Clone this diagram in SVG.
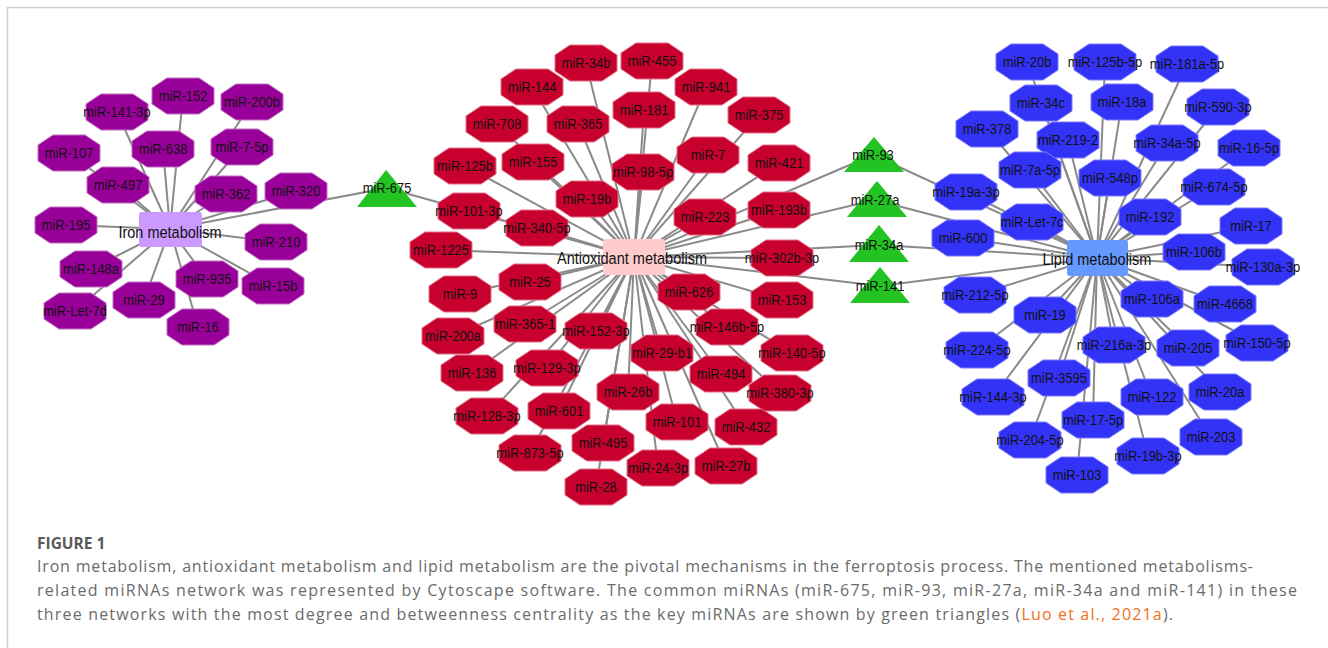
<svg xmlns="http://www.w3.org/2000/svg" xmlns:xlink="http://www.w3.org/1999/xlink" width="1328" height="648" viewBox="0 0 1328 648">
<style>
.frame{stroke:#cfcfcf;stroke-width:1.5;fill:none}
.edges line{stroke:#8a8a8a;stroke-width:2}
.iron{fill:#990099;stroke:#c070c0;stroke-width:1}
.anti{fill:#c8002d;stroke:#e07088;stroke-width:1}
.lipid{fill:#3333f8;stroke:#7a7aff;stroke-width:1}
.tri{fill:#22c322}
.lbl{font-family:"Liberation Sans",Arial,sans-serif;font-size:15px;fill:#111;stroke:none;text-anchor:middle;transform-box:fill-box;transform-origin:center;transform:scaleX(0.86)}
.hublbl{font-family:"Liberation Sans",Arial,sans-serif;font-size:16.5px;fill:#111;text-anchor:middle;transform-box:fill-box;transform-origin:center;transform:scaleX(0.88)}
.cap{font-family:"Open Sans","Liberation Sans",sans-serif;font-size:16px;fill:#6b6b6b}
.caph{font-family:"Open Sans","Liberation Sans",sans-serif;font-size:15.5px;font-weight:bold;fill:#5a5a5a}
.link{fill:#f07020}
</style>
<defs>
<path id="oct" d="M-16,-18 H16 L31,-8 V8 L16,18 H-16 L-31,8 V-8 Z"/>
</defs>
<rect width="1328" height="648" fill="#ffffff"/>
<path class="frame" d="M7.5,648 V7.5 H1328"/>

<g id="connectors" class="edges">
<line x1="170" y1="229" x2="117" y2="112"/>
<line x1="170" y1="229" x2="183" y2="96"/>
<line x1="170" y1="229" x2="252" y2="102"/>
<line x1="170" y1="229" x2="69" y2="153"/>
<line x1="170" y1="229" x2="163" y2="149"/>
<line x1="170" y1="229" x2="242" y2="147"/>
<line x1="170" y1="229" x2="118" y2="185"/>
<line x1="170" y1="229" x2="226" y2="194"/>
<line x1="170" y1="229" x2="296" y2="191"/>
<line x1="170" y1="229" x2="66" y2="225"/>
<line x1="170" y1="229" x2="276" y2="242"/>
<line x1="170" y1="229" x2="91" y2="269"/>
<line x1="170" y1="229" x2="207" y2="279"/>
<line x1="170" y1="229" x2="273" y2="286"/>
<line x1="170" y1="229" x2="144" y2="300"/>
<line x1="170" y1="229" x2="75" y2="311"/>
<line x1="170" y1="229" x2="198" y2="327"/>
<line x1="170" y1="229" x2="387" y2="188"/>
<line x1="387" y1="188" x2="634" y2="257"/>
<line x1="634" y1="257" x2="586" y2="63"/>
<line x1="634" y1="257" x2="652" y2="61"/>
<line x1="634" y1="257" x2="532" y2="87"/>
<line x1="634" y1="257" x2="706" y2="87"/>
<line x1="634" y1="257" x2="644" y2="110"/>
<line x1="634" y1="257" x2="497" y2="124"/>
<line x1="634" y1="257" x2="578" y2="124"/>
<line x1="634" y1="257" x2="759" y2="115"/>
<line x1="634" y1="257" x2="708" y2="155"/>
<line x1="634" y1="257" x2="533" y2="162"/>
<line x1="634" y1="257" x2="465" y2="166"/>
<line x1="634" y1="257" x2="643" y2="172"/>
<line x1="634" y1="257" x2="779" y2="163"/>
<line x1="634" y1="257" x2="587" y2="199"/>
<line x1="634" y1="257" x2="705" y2="217"/>
<line x1="634" y1="257" x2="779" y2="210"/>
<line x1="634" y1="257" x2="469" y2="211"/>
<line x1="634" y1="257" x2="537" y2="228"/>
<line x1="634" y1="257" x2="441" y2="250"/>
<line x1="634" y1="257" x2="782" y2="258"/>
<line x1="634" y1="257" x2="530" y2="282"/>
<line x1="634" y1="257" x2="460" y2="294"/>
<line x1="634" y1="257" x2="689" y2="292"/>
<line x1="634" y1="257" x2="782" y2="300"/>
<line x1="634" y1="257" x2="453" y2="336"/>
<line x1="634" y1="257" x2="525" y2="324"/>
<line x1="634" y1="257" x2="596" y2="331"/>
<line x1="634" y1="257" x2="727" y2="327"/>
<line x1="634" y1="257" x2="792" y2="353"/>
<line x1="634" y1="257" x2="662" y2="353"/>
<line x1="634" y1="257" x2="472" y2="373"/>
<line x1="634" y1="257" x2="547" y2="368"/>
<line x1="634" y1="257" x2="721" y2="374"/>
<line x1="634" y1="257" x2="628" y2="392"/>
<line x1="634" y1="257" x2="780" y2="393"/>
<line x1="634" y1="257" x2="487" y2="416"/>
<line x1="634" y1="257" x2="559" y2="411"/>
<line x1="634" y1="257" x2="677" y2="422"/>
<line x1="634" y1="257" x2="746" y2="427"/>
<line x1="634" y1="257" x2="603" y2="443"/>
<line x1="634" y1="257" x2="530" y2="453"/>
<line x1="634" y1="257" x2="658" y2="468"/>
<line x1="634" y1="257" x2="726" y2="466"/>
<line x1="634" y1="257" x2="596" y2="487"/>
<line x1="634" y1="257" x2="873" y2="155"/>
<line x1="634" y1="257" x2="875" y2="200"/>
<line x1="634" y1="257" x2="879" y2="245"/>
<line x1="634" y1="257" x2="880" y2="286"/>
<line x1="873" y1="155" x2="1097" y2="258"/>
<line x1="875" y1="200" x2="1097" y2="258"/>
<line x1="879" y1="245" x2="1097" y2="258"/>
<line x1="880" y1="286" x2="1097" y2="258"/>
<line x1="1097" y1="258" x2="1027" y2="62"/>
<line x1="1097" y1="258" x2="1105" y2="62"/>
<line x1="1097" y1="258" x2="1187" y2="64"/>
<line x1="1097" y1="258" x2="1041" y2="103"/>
<line x1="1097" y1="258" x2="1122" y2="102"/>
<line x1="1097" y1="258" x2="1218" y2="107"/>
<line x1="1097" y1="258" x2="987" y2="129"/>
<line x1="1097" y1="258" x2="1068" y2="140"/>
<line x1="1097" y1="258" x2="1167" y2="143"/>
<line x1="1097" y1="258" x2="1249" y2="148"/>
<line x1="1097" y1="258" x2="1030" y2="170"/>
<line x1="1097" y1="258" x2="1110" y2="178"/>
<line x1="1097" y1="258" x2="1214" y2="187"/>
<line x1="1097" y1="258" x2="966" y2="192"/>
<line x1="1097" y1="258" x2="1032" y2="222"/>
<line x1="1097" y1="258" x2="1150" y2="217"/>
<line x1="1097" y1="258" x2="1251" y2="226"/>
<line x1="1097" y1="258" x2="963" y2="238"/>
<line x1="1097" y1="258" x2="1194" y2="252"/>
<line x1="1097" y1="258" x2="1263" y2="267"/>
<line x1="1097" y1="258" x2="975" y2="295"/>
<line x1="1097" y1="258" x2="1152" y2="299"/>
<line x1="1097" y1="258" x2="1225" y2="304"/>
<line x1="1097" y1="258" x2="1045" y2="315"/>
<line x1="1097" y1="258" x2="977" y2="350"/>
<line x1="1097" y1="258" x2="1114" y2="345"/>
<line x1="1097" y1="258" x2="1188" y2="348"/>
<line x1="1097" y1="258" x2="1257" y2="343"/>
<line x1="1097" y1="258" x2="1059" y2="378"/>
<line x1="1097" y1="258" x2="993" y2="397"/>
<line x1="1097" y1="258" x2="1152" y2="397"/>
<line x1="1097" y1="258" x2="1220" y2="392"/>
<line x1="1097" y1="258" x2="1093" y2="420"/>
<line x1="1097" y1="258" x2="1211" y2="437"/>
<line x1="1097" y1="258" x2="1030" y2="440"/>
<line x1="1097" y1="258" x2="1148" y2="456"/>
<line x1="1097" y1="258" x2="1077" y2="475"/>
</g>

<g id="iron-miR-141-3p" class="iron"><use xlink:href="#oct" x="117" y="112"/><text class="lbl" x="117" y="117">miR-141-3p</text></g>
<g id="iron-miR-152" class="iron"><use xlink:href="#oct" x="183" y="96"/><text class="lbl" x="183" y="101">miR-152</text></g>
<g id="iron-miR-200b" class="iron"><use xlink:href="#oct" x="252" y="102"/><text class="lbl" x="252" y="107">miR-200b</text></g>
<g id="iron-miR-107" class="iron"><use xlink:href="#oct" x="69" y="153"/><text class="lbl" x="69" y="158">miR-107</text></g>
<g id="iron-miR-638" class="iron"><use xlink:href="#oct" x="163" y="149"/><text class="lbl" x="163" y="154">miR-638</text></g>
<g id="iron-miR-7-5p" class="iron"><use xlink:href="#oct" x="242" y="147"/><text class="lbl" x="242" y="152">miR-7-5p</text></g>
<g id="iron-miR-497" class="iron"><use xlink:href="#oct" x="118" y="185"/><text class="lbl" x="118" y="190">miR-497</text></g>
<g id="iron-miR-362" class="iron"><use xlink:href="#oct" x="226" y="194"/><text class="lbl" x="226" y="199">miR-362</text></g>
<g id="iron-miR-320" class="iron"><use xlink:href="#oct" x="296" y="191"/><text class="lbl" x="296" y="196">miR-320</text></g>
<g id="iron-miR-195" class="iron"><use xlink:href="#oct" x="66" y="225"/><text class="lbl" x="66" y="230">miR-195</text></g>
<g id="iron-miR-210" class="iron"><use xlink:href="#oct" x="276" y="242"/><text class="lbl" x="276" y="247">miR-210</text></g>
<g id="iron-miR-148a" class="iron"><use xlink:href="#oct" x="91" y="269"/><text class="lbl" x="91" y="274">miR-148a</text></g>
<g id="iron-miR-935" class="iron"><use xlink:href="#oct" x="207" y="279"/><text class="lbl" x="207" y="284">miR-935</text></g>
<g id="iron-miR-15b" class="iron"><use xlink:href="#oct" x="273" y="286"/><text class="lbl" x="273" y="291">miR-15b</text></g>
<g id="iron-miR-29" class="iron"><use xlink:href="#oct" x="144" y="300"/><text class="lbl" x="144" y="305">miR-29</text></g>
<g id="iron-miR-Let-7d" class="iron"><use xlink:href="#oct" x="75" y="311"/><text class="lbl" x="75" y="316">miR-Let-7d</text></g>
<g id="iron-miR-16" class="iron"><use xlink:href="#oct" x="198" y="327"/><text class="lbl" x="198" y="332">miR-16</text></g>

<g id="anti-miR-34b" class="anti"><use xlink:href="#oct" x="586" y="63"/><text class="lbl" x="586" y="68">miR-34b</text></g>
<g id="anti-miR-455" class="anti"><use xlink:href="#oct" x="652" y="61"/><text class="lbl" x="652" y="66">miR-455</text></g>
<g id="anti-miR-144" class="anti"><use xlink:href="#oct" x="532" y="87"/><text class="lbl" x="532" y="92">miR-144</text></g>
<g id="anti-miR-941" class="anti"><use xlink:href="#oct" x="706" y="87"/><text class="lbl" x="706" y="92">miR-941</text></g>
<g id="anti-miR-181" class="anti"><use xlink:href="#oct" x="644" y="110"/><text class="lbl" x="644" y="115">miR-181</text></g>
<g id="anti-miR-708" class="anti"><use xlink:href="#oct" x="497" y="124"/><text class="lbl" x="497" y="129">miR-708</text></g>
<g id="anti-miR-365" class="anti"><use xlink:href="#oct" x="578" y="124"/><text class="lbl" x="578" y="129">miR-365</text></g>
<g id="anti-miR-375" class="anti"><use xlink:href="#oct" x="759" y="115"/><text class="lbl" x="759" y="120">miR-375</text></g>
<g id="anti-miR-7" class="anti"><use xlink:href="#oct" x="708" y="155"/><text class="lbl" x="708" y="160">miR-7</text></g>
<g id="anti-miR-155" class="anti"><use xlink:href="#oct" x="533" y="162"/><text class="lbl" x="533" y="167">miR-155</text></g>
<g id="anti-miR-125b" class="anti"><use xlink:href="#oct" x="465" y="166"/><text class="lbl" x="465" y="171">miR-125b</text></g>
<g id="anti-miR-98-5p" class="anti"><use xlink:href="#oct" x="643" y="172"/><text class="lbl" x="643" y="177">miR-98-5p</text></g>
<g id="anti-miR-421" class="anti"><use xlink:href="#oct" x="779" y="163"/><text class="lbl" x="779" y="168">miR-421</text></g>
<g id="anti-miR-19b" class="anti"><use xlink:href="#oct" x="587" y="199"/><text class="lbl" x="587" y="204">miR-19b</text></g>
<g id="anti-miR-223" class="anti"><use xlink:href="#oct" x="705" y="217"/><text class="lbl" x="705" y="222">miR-223</text></g>
<g id="anti-miR-193b" class="anti"><use xlink:href="#oct" x="779" y="210"/><text class="lbl" x="779" y="215">miR-193b</text></g>
<g id="anti-miR-101-3p" class="anti"><use xlink:href="#oct" x="469" y="211"/><text class="lbl" x="469" y="216">miR-101-3p</text></g>
<g id="anti-miR-340-5p" class="anti"><use xlink:href="#oct" x="537" y="228"/><text class="lbl" x="537" y="233">miR-340-5p</text></g>
<g id="anti-miR-1225" class="anti"><use xlink:href="#oct" x="441" y="250"/><text class="lbl" x="441" y="255">miR-1225</text></g>
<g id="anti-miR-302b-3p" class="anti"><use xlink:href="#oct" x="782" y="258"/><text class="lbl" x="782" y="263">miR-302b-3p</text></g>
<g id="anti-miR-25" class="anti"><use xlink:href="#oct" x="530" y="282"/><text class="lbl" x="530" y="287">miR-25</text></g>
<g id="anti-miR-9" class="anti"><use xlink:href="#oct" x="460" y="294"/><text class="lbl" x="460" y="299">miR-9</text></g>
<g id="anti-miR-626" class="anti"><use xlink:href="#oct" x="689" y="292"/><text class="lbl" x="689" y="297">miR-626</text></g>
<g id="anti-miR-153" class="anti"><use xlink:href="#oct" x="782" y="300"/><text class="lbl" x="782" y="305">miR-153</text></g>
<g id="anti-miR-200a" class="anti"><use xlink:href="#oct" x="453" y="336"/><text class="lbl" x="453" y="341">miR-200a</text></g>
<g id="anti-miR-365-1" class="anti"><use xlink:href="#oct" x="525" y="324"/><text class="lbl" x="525" y="329">miR-365-1</text></g>
<g id="anti-miR-152-3p" class="anti"><use xlink:href="#oct" x="596" y="331"/><text class="lbl" x="596" y="336">miR-152-3p</text></g>
<g id="anti-miR-146b-5p" class="anti"><use xlink:href="#oct" x="727" y="327"/><text class="lbl" x="727" y="332">miR-146b-5p</text></g>
<g id="anti-miR-140-5p" class="anti"><use xlink:href="#oct" x="792" y="353"/><text class="lbl" x="792" y="358">miR-140-5p</text></g>
<g id="anti-miR-29-b1" class="anti"><use xlink:href="#oct" x="662" y="353"/><text class="lbl" x="662" y="358">miR-29-b1</text></g>
<g id="anti-miR-136" class="anti"><use xlink:href="#oct" x="472" y="373"/><text class="lbl" x="472" y="378">miR-136</text></g>
<g id="anti-miR-129-3p" class="anti"><use xlink:href="#oct" x="547" y="368"/><text class="lbl" x="547" y="373">miR-129-3p</text></g>
<g id="anti-miR-494" class="anti"><use xlink:href="#oct" x="721" y="374"/><text class="lbl" x="721" y="379">miR-494</text></g>
<g id="anti-miR-26b" class="anti"><use xlink:href="#oct" x="628" y="392"/><text class="lbl" x="628" y="397">miR-26b</text></g>
<g id="anti-miR-380-3p" class="anti"><use xlink:href="#oct" x="780" y="393"/><text class="lbl" x="780" y="398">miR-380-3p</text></g>
<g id="anti-miR-128-3p" class="anti"><use xlink:href="#oct" x="487" y="416"/><text class="lbl" x="487" y="421">miR-128-3p</text></g>
<g id="anti-miR-601" class="anti"><use xlink:href="#oct" x="559" y="411"/><text class="lbl" x="559" y="416">miR-601</text></g>
<g id="anti-miR-101" class="anti"><use xlink:href="#oct" x="677" y="422"/><text class="lbl" x="677" y="427">miR-101</text></g>
<g id="anti-miR-432" class="anti"><use xlink:href="#oct" x="746" y="427"/><text class="lbl" x="746" y="432">miR-432</text></g>
<g id="anti-miR-495" class="anti"><use xlink:href="#oct" x="603" y="443"/><text class="lbl" x="603" y="448">miR-495</text></g>
<g id="anti-miR-873-5p" class="anti"><use xlink:href="#oct" x="530" y="453"/><text class="lbl" x="530" y="458">miR-873-5p</text></g>
<g id="anti-miR-24-3p" class="anti"><use xlink:href="#oct" x="658" y="468"/><text class="lbl" x="658" y="473">miR-24-3p</text></g>
<g id="anti-miR-27b" class="anti"><use xlink:href="#oct" x="726" y="466"/><text class="lbl" x="726" y="471">miR-27b</text></g>
<g id="anti-miR-28" class="anti"><use xlink:href="#oct" x="596" y="487"/><text class="lbl" x="596" y="492">miR-28</text></g>

<g id="lipid-miR-20b" class="lipid"><use xlink:href="#oct" x="1027" y="62"/><text class="lbl" x="1027" y="67">miR-20b</text></g>
<g id="lipid-miR-125b-5p" class="lipid"><use xlink:href="#oct" x="1105" y="62"/><text class="lbl" x="1105" y="67">miR-125b-5p</text></g>
<g id="lipid-miR-181a-5p" class="lipid"><use xlink:href="#oct" x="1187" y="64"/><text class="lbl" x="1187" y="69">miR-181a-5p</text></g>
<g id="lipid-miR-34c" class="lipid"><use xlink:href="#oct" x="1041" y="103"/><text class="lbl" x="1041" y="108">miR-34c</text></g>
<g id="lipid-miR-18a" class="lipid"><use xlink:href="#oct" x="1122" y="102"/><text class="lbl" x="1122" y="107">miR-18a</text></g>
<g id="lipid-miR-590-3p" class="lipid"><use xlink:href="#oct" x="1218" y="107"/><text class="lbl" x="1218" y="112">miR-590-3p</text></g>
<g id="lipid-miR-378" class="lipid"><use xlink:href="#oct" x="987" y="129"/><text class="lbl" x="987" y="134">miR-378</text></g>
<g id="lipid-miR-219-2" class="lipid"><use xlink:href="#oct" x="1068" y="140"/><text class="lbl" x="1068" y="145">miR-219-2</text></g>
<g id="lipid-miR-34a-5p" class="lipid"><use xlink:href="#oct" x="1167" y="143"/><text class="lbl" x="1167" y="148">miR-34a-5p</text></g>
<g id="lipid-miR-16-5p" class="lipid"><use xlink:href="#oct" x="1249" y="148"/><text class="lbl" x="1249" y="153">miR-16-5p</text></g>
<g id="lipid-miR-7a-5p" class="lipid"><use xlink:href="#oct" x="1030" y="170"/><text class="lbl" x="1030" y="175">miR-7a-5p</text></g>
<g id="lipid-miR-548p" class="lipid"><use xlink:href="#oct" x="1110" y="178"/><text class="lbl" x="1110" y="183">miR-548p</text></g>
<g id="lipid-miR-674-5p" class="lipid"><use xlink:href="#oct" x="1214" y="187"/><text class="lbl" x="1214" y="192">miR-674-5p</text></g>
<g id="lipid-miR-19a-3p" class="lipid"><use xlink:href="#oct" x="966" y="192"/><text class="lbl" x="966" y="197">miR-19a-3p</text></g>
<g id="lipid-miR-Let-7c" class="lipid"><use xlink:href="#oct" x="1032" y="222"/><text class="lbl" x="1032" y="227">miR-Let-7c</text></g>
<g id="lipid-miR-192" class="lipid"><use xlink:href="#oct" x="1150" y="217"/><text class="lbl" x="1150" y="222">miR-192</text></g>
<g id="lipid-miR-17" class="lipid"><use xlink:href="#oct" x="1251" y="226"/><text class="lbl" x="1251" y="231">miR-17</text></g>
<g id="lipid-miR-600" class="lipid"><use xlink:href="#oct" x="963" y="238"/><text class="lbl" x="963" y="243">miR-600</text></g>
<g id="lipid-miR-106b" class="lipid"><use xlink:href="#oct" x="1194" y="252"/><text class="lbl" x="1194" y="257">miR-106b</text></g>
<g id="lipid-miR-130a-3p" class="lipid"><use xlink:href="#oct" x="1263" y="267"/><text class="lbl" x="1263" y="272">miR-130a-3p</text></g>
<g id="lipid-miR-212-5p" class="lipid"><use xlink:href="#oct" x="975" y="295"/><text class="lbl" x="975" y="300">miR-212-5p</text></g>
<g id="lipid-miR-106a" class="lipid"><use xlink:href="#oct" x="1152" y="299"/><text class="lbl" x="1152" y="304">miR-106a</text></g>
<g id="lipid-miR-4668" class="lipid"><use xlink:href="#oct" x="1225" y="304"/><text class="lbl" x="1225" y="309">miR-4668</text></g>
<g id="lipid-miR-19" class="lipid"><use xlink:href="#oct" x="1045" y="315"/><text class="lbl" x="1045" y="320">miR-19</text></g>
<g id="lipid-miR-224-5p" class="lipid"><use xlink:href="#oct" x="977" y="350"/><text class="lbl" x="977" y="355">miR-224-5p</text></g>
<g id="lipid-miR-216a-3p" class="lipid"><use xlink:href="#oct" x="1114" y="345"/><text class="lbl" x="1114" y="350">miR-216a-3p</text></g>
<g id="lipid-miR-205" class="lipid"><use xlink:href="#oct" x="1188" y="348"/><text class="lbl" x="1188" y="353">miR-205</text></g>
<g id="lipid-miR-150-5p" class="lipid"><use xlink:href="#oct" x="1257" y="343"/><text class="lbl" x="1257" y="348">miR-150-5p</text></g>
<g id="lipid-miR-3595" class="lipid"><use xlink:href="#oct" x="1059" y="378"/><text class="lbl" x="1059" y="383">miR-3595</text></g>
<g id="lipid-miR-144-3p" class="lipid"><use xlink:href="#oct" x="993" y="397"/><text class="lbl" x="993" y="402">miR-144-3p</text></g>
<g id="lipid-miR-122" class="lipid"><use xlink:href="#oct" x="1152" y="397"/><text class="lbl" x="1152" y="402">miR-122</text></g>
<g id="lipid-miR-20a" class="lipid"><use xlink:href="#oct" x="1220" y="392"/><text class="lbl" x="1220" y="397">miR-20a</text></g>
<g id="lipid-miR-17-5p" class="lipid"><use xlink:href="#oct" x="1093" y="420"/><text class="lbl" x="1093" y="425">miR-17-5p</text></g>
<g id="lipid-miR-203" class="lipid"><use xlink:href="#oct" x="1211" y="437"/><text class="lbl" x="1211" y="442">miR-203</text></g>
<g id="lipid-miR-204-5p" class="lipid"><use xlink:href="#oct" x="1030" y="440"/><text class="lbl" x="1030" y="445">miR-204-5p</text></g>
<g id="lipid-miR-19b-3p" class="lipid"><use xlink:href="#oct" x="1148" y="456"/><text class="lbl" x="1148" y="461">miR-19b-3p</text></g>
<g id="lipid-miR-103" class="lipid"><use xlink:href="#oct" x="1077" y="475"/><text class="lbl" x="1077" y="480">miR-103</text></g>

<g id="key-miR-675"><polygon class="tri" points="386,170 357,207 417,207"/><text class="lbl" x="387" y="193">miR-675</text></g>
<g id="key-miR-93"><polygon class="tri" points="874,137 844,172 904,172"/><text class="lbl" x="873" y="160">miR-93</text></g>
<g id="key-miR-27a"><polygon class="tri" points="877,181 847,217 907,217"/><text class="lbl" x="875" y="205">miR-27a</text></g>
<g id="key-miR-34a"><polygon class="tri" points="879,225 849,262 909,262"/><text class="lbl" x="879" y="250">miR-34a</text></g>
<g id="key-miR-141"><polygon class="tri" points="880,267 850,303 910,303"/><text class="lbl" x="880" y="291">miR-141</text></g>

<g id="hub-iron"><rect x="139" y="212" width="63" height="35" rx="3" fill="#cc99ff"/><text class="hublbl" x="170" y="238">Iron metabolism</text></g>
<g id="hub-antioxidant"><rect x="603" y="239" width="62" height="36" rx="3" fill="#ffcccc"/><text class="hublbl" x="632" y="264">Antioxidant metabolism</text></g>
<g id="hub-lipid"><rect x="1067" y="240" width="61" height="36" rx="3" fill="#6699ff"/><text class="hublbl" x="1097" y="265">Lipid metabolism</text></g>

<g id="caption">
<text class="caph" x="37" y="549">FIGURE 1</text>
<text class="cap" x="37" y="572" textLength="1216" lengthAdjust="spacing">Iron metabolism, antioxidant metabolism and lipid metabolism are the pivotal mechanisms in the ferroptosis process. The mentioned metabolisms-</text>
<text class="cap" x="37" y="596" textLength="1260" lengthAdjust="spacing">related miRNAs network was represented by Cytoscape software. The common miRNAs (miR-675, miR-93, miR-27a, miR-34a and miR-141) in these</text>
<text class="cap" x="37" y="620" textLength="1136" lengthAdjust="spacing">three networks with the most degree and betweenness centrality as the key miRNAs are shown by green triangles (<tspan class="link">Luo et al., 2021a</tspan>).</text>
</g>
</svg>
